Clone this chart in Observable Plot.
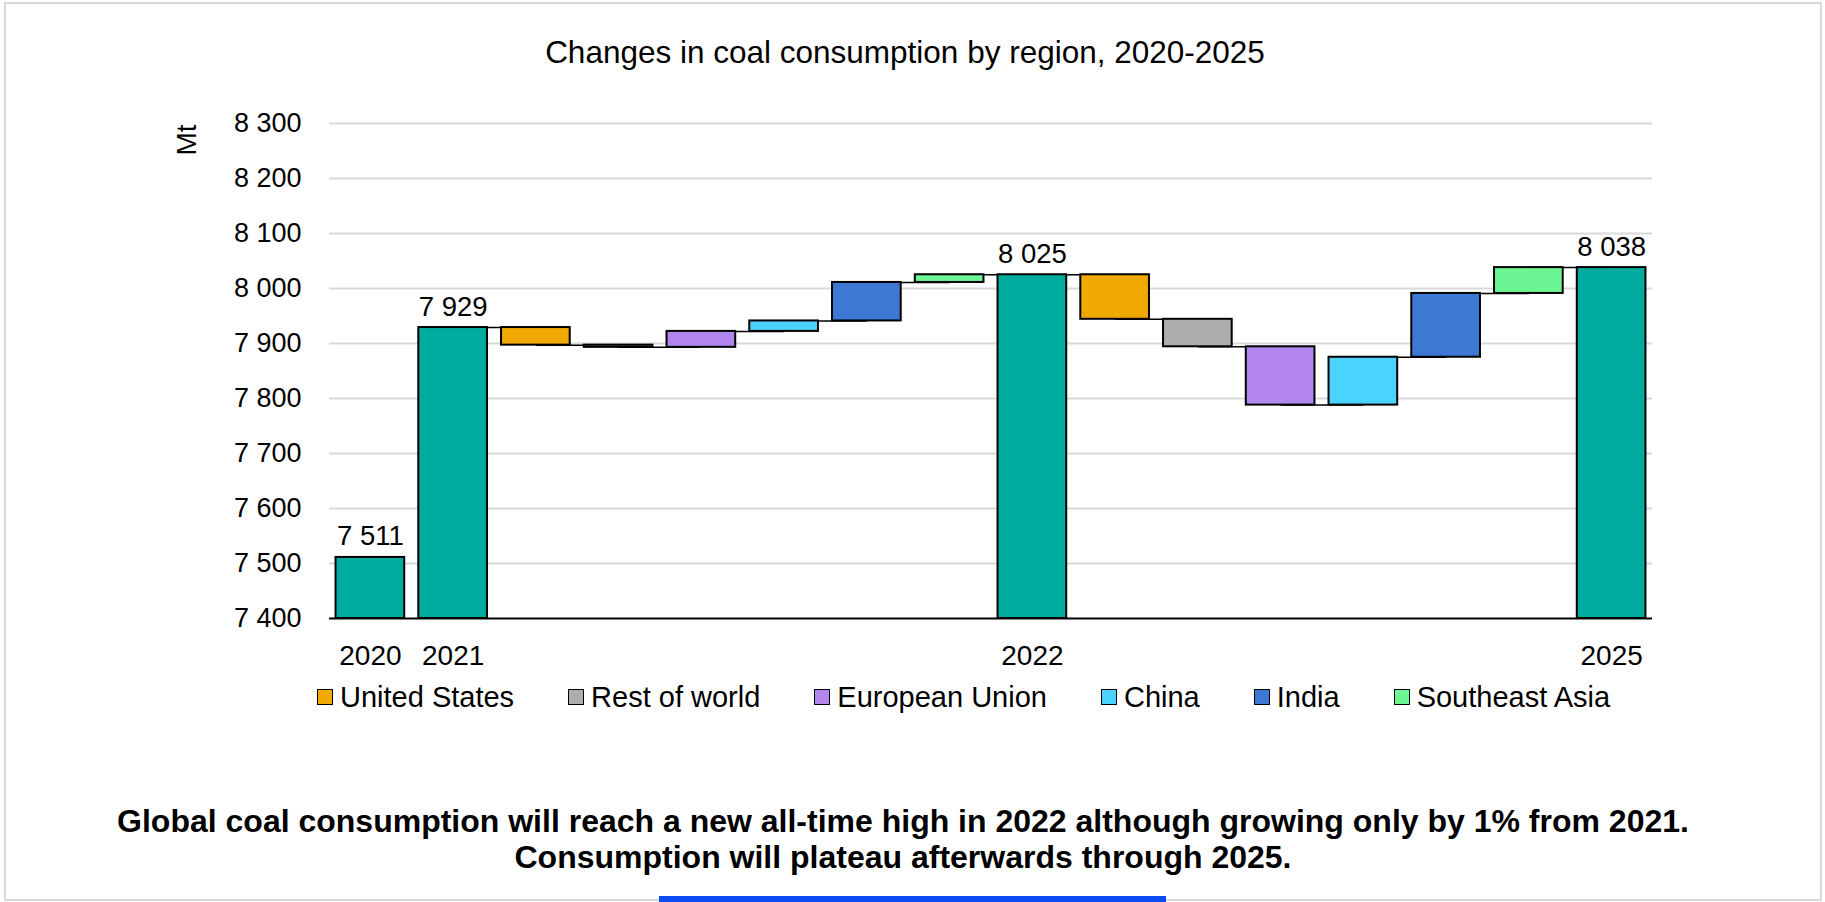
<!DOCTYPE html>
<html>
<head>
<meta charset="utf-8">
<script src="https://cdn.jsdelivr.net/npm/d3@7"></script>
<script src="https://cdn.jsdelivr.net/npm/@observablehq/plot@0.6"></script>
<style>
  html, body { margin: 0; padding: 0; background: #ffffff; }
  body { font-family: "Liberation Sans", Arial, sans-serif; color: #000; }
  #root { position: relative; width: 1825px; height: 902px; overflow: hidden; background: #fff; }
  #frame { position: absolute; left: 4px; top: 2px; width: 1818px; height: 899px; border: 2px solid #d9d9d9; box-sizing: border-box; }
  #title { position: absolute; left: 0; top: 34px; width: 1810px; text-align: center; font-size: 31.5px; line-height: 36px; }
  #ylabel { position: absolute; left: 187px; top: 140px; font-size: 28px; line-height: 28px; transform: translate(-50%, -50%) rotate(-90deg); white-space: nowrap; }
  #chart { position: absolute; left: 0; top: 0; }
  #legend { position: absolute; left: 317px; top: 679px; display: flex; gap: 54px; font-size: 29px; line-height: 36px; white-space: nowrap; }
  .item { display: flex; align-items: center; gap: 7px; }
  .sw { width: 14px; height: 14px; border: 1.5px solid #000; }
  #caption { position: absolute; left: 0; top: 803px; width: 1806px; text-align: center; font-size: 32px; font-weight: bold; line-height: 36px; }
  #blue { position: absolute; left: 659px; top: 896px; width: 507px; height: 6px; background: #0a4cf2; }
</style>
</head>
<body>
<div id="root">
  <div id="frame"></div>
  <div id="title"></div>
  <div id="ylabel"></div>
  <div id="chart"></div>
  <div id="legend"></div>
  <div id="caption"></div>
  <div id="blue"></div>
</div>
<script>
// ---- data ----
const titleText = "Changes in coal consumption by region, 2020-2025";
const yLabelText = "Mt";
const captionLines = [
  "Global coal consumption will reach a new all-time high in 2022 although growing only by 1% from 2021.",
  "Consumption will plateau afterwards through 2025."
];
const categories = ["2020", "2021", "us1", "row1", "eu1", "cn1", "in1", "sea1", "2022", "us2", "row2", "eu2", "cn2", "in2", "sea2", "2025"];
const kinds = ["Total", "Total", "United States", "Rest of world", "European Union", "China", "India", "Southeast Asia", "Total", "United States", "Rest of world", "European Union", "China", "India", "Southeast Asia", "Total"];
// totals are absolute levels, the others are changes (Mt)
const values = [7511, 7929, -32, -4, 29, 19, 70, 14, 8025, -81, -50, -106, 87, 116, 47, 8038];
const xTickLabels = {"2020": "2020", "2021": "2021", "2022": "2022", "2025": "2025"};
const yTicks = [7400, 7500, 7600, 7700, 7800, 7900, 8000, 8100, 8200, 8300];
const regionNames = ["United States", "Rest of world", "European Union", "China", "India", "Southeast Asia"];
const regionColors = ["#f0a900", "#adadad", "#b386ee", "#4bd3ff", "#3d79d4", "#6cf593"];
const totalColor = "#00aca0";

// ---- build ----
const yMin = yTicks[0], yMax = yTicks[yTicks.length - 1];
const fmt = d3.formatLocale({decimal: ".", thousands: "\u00a0", grouping: [3], currency: ["", ""]}).format(",d");

let level = 0;
const rows = categories.map((c, i) => {
  const k = kinds[i];
  if (k === "Total") {
    level = values[i];
    return {c, k, y1: yMin, y2: values[i], end: values[i], total: true};
  }
  const start = level;
  level += values[i];
  return {c, k, y1: start, y2: level, end: level, total: false};
});
const connectors = [];
for (let i = 0; i < rows.length - 1; i++) {
  if (rows[i].total && rows[i + 1].total) continue;
  connectors.push({a: rows[i].c, b: rows[i + 1].c, v: rows[i].end});
}
const totals = rows.filter(r => r.total);

const colorDomain = ["Total", ...regionNames];
const colorRange = [totalColor, ...regionColors];

const chart = Plot.plot({
  width: 1825,
  height: 680,
  marginLeft: 329,
  marginRight: 173,
  marginTop: 123,
  marginBottom: 62,
  style: {fontFamily: "'Liberation Sans', Arial, sans-serif", fontSize: "27px", color: "#000", background: "transparent"},
  x: {domain: categories, paddingInner: 0.17, paddingOuter: 0.079, round: false, label: null},
  y: {domain: [yMin, yMax], label: null},
  color: {domain: colorDomain, range: colorRange},
  marks: [
    Plot.gridY(yTicks.slice(1), {stroke: "#d9d9d9", strokeOpacity: 1, strokeWidth: 2}),
    Plot.link(connectors, {x1: "a", x2: "b", y1: "v", y2: "v", stroke: "#000", strokeWidth: 1.5}),
    Plot.barY(rows, {x: "c", y1: "y1", y2: "y2", fill: "k", stroke: "#000", strokeWidth: 2}),
    Plot.ruleY([yMin], {stroke: "#000", strokeWidth: 2}),
    Plot.text(totals, {x: "c", y: "y2", text: d => fmt(d.y2), dy: -12, lineAnchor: "bottom", fontSize: 27.5, fill: "#000"}),
    Plot.axisY(yTicks, {tickSize: 0, tickPadding: 28, tickFormat: fmt, fontSize: 27, label: null}),
    Plot.axisX({tickSize: 0, tickPadding: 27, tickFormat: d => xTickLabels[d] || "", fontSize: 28, label: null})
  ]
});
document.getElementById("chart").appendChild(chart);

document.getElementById("title").textContent = titleText;
document.getElementById("ylabel").textContent = yLabelText;
document.getElementById("caption").innerHTML = captionLines.map(s => `<div>${s}</div>`).join("");
const legend = document.getElementById("legend");
regionNames.forEach((n, i) => {
  const it = document.createElement("div");
  it.className = "item";
  it.innerHTML = `<span class="sw" style="background:${regionColors[i]}"></span><span>${n}</span>`;
  legend.appendChild(it);
});
</script>
</body>
</html>
